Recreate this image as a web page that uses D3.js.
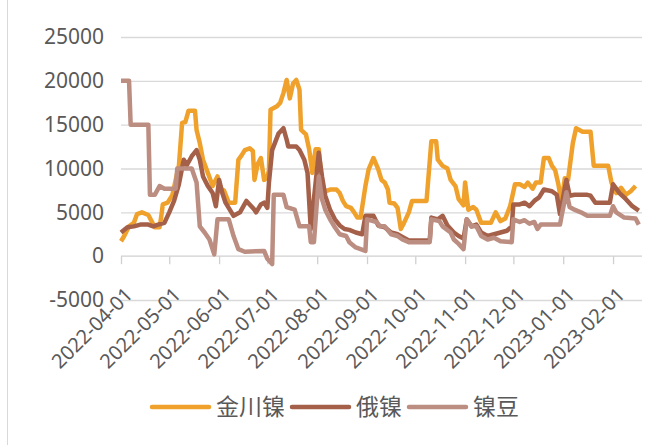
<!DOCTYPE html>
<html>
<head>
<meta charset="utf-8">
<script src="https://cdn.jsdelivr.net/npm/d3@7"></script>
<style>
  body { margin: 0; background: #fff; }
  text { font-family: "Noto Sans", "Noto Sans CJK SC", sans-serif; fill: #595959; }
</style>
</head>
<body>
<div id="chart"></div>
<script>
// values
var seriesNames = ["金川镍", "俄镍", "镍豆"];
var seriesColors = ["#EFA12C", "#A5604A", "#BC8D81"];

var monthTicks = ["2022-04-01", "2022-05-01", "2022-06-01", "2022-07-01", "2022-08-01",
  "2022-09-01", "2022-10-01", "2022-11-01", "2022-12-01", "2023-01-01", "2023-02-01"];
var yTicks = [-5000, 0, 5000, 10000, 15000, 20000, 25000];

var jinchuan = [
  ["2022-04-01", 1700], ["2022-04-03", 2300], ["2022-04-06", 3400], ["2022-04-09", 3800],
  ["2022-04-11", 4800], ["2022-04-14", 5000], ["2022-04-18", 4700], ["2022-04-20", 4000],
  ["2022-04-22", 3300], ["2022-04-25", 3300], ["2022-04-26", 4500], ["2022-04-27", 5900],
  ["2022-04-30", 6100], ["2022-05-03", 7000], ["2022-05-05", 8700], ["2022-05-07", 10300],
  ["2022-05-09", 15200], ["2022-05-11", 15300], ["2022-05-13", 16600], ["2022-05-17", 16600],
  ["2022-05-18", 14400], ["2022-05-20", 12900], ["2022-05-22", 11000], ["2022-05-25", 9500],
  ["2022-05-28", 8000], ["2022-05-31", 9100], ["2022-06-02", 7700], ["2022-06-04", 7500],
  ["2022-06-07", 6100], ["2022-06-11", 6100], ["2022-06-13", 11000], ["2022-06-15", 11500],
  ["2022-06-17", 12100], ["2022-06-20", 12300], ["2022-06-22", 12000], ["2022-06-23", 8700],
  ["2022-06-25", 10500], ["2022-06-27", 11200], ["2022-06-29", 8700], ["2022-07-01", 9000],
  ["2022-07-02", 9800], ["2022-07-03", 16700], ["2022-07-07", 17100], ["2022-07-09", 17500],
  ["2022-07-11", 18600], ["2022-07-13", 20100], ["2022-07-15", 18000], ["2022-07-17", 19700],
  ["2022-07-19", 20100], ["2022-07-21", 19000], ["2022-07-22", 14400], ["2022-07-25", 13900],
  ["2022-07-27", 12200], ["2022-07-29", 9500], ["2022-07-31", 12200], ["2022-08-02", 12200],
  ["2022-08-04", 8000], ["2022-08-06", 7400], ["2022-08-09", 7600], ["2022-08-13", 7600],
  ["2022-08-15", 7200], ["2022-08-17", 6300], ["2022-08-19", 5700], ["2022-08-22", 5500],
  ["2022-08-24", 5000], ["2022-08-26", 4400], ["2022-08-28", 4400], ["2022-08-31", 8000],
  ["2022-09-02", 9900], ["2022-09-05", 11200], ["2022-09-08", 9900], ["2022-09-10", 8700],
  ["2022-09-12", 8400], ["2022-09-14", 7600], ["2022-09-15", 6100], ["2022-09-18", 6000],
  ["2022-09-20", 5500], ["2022-09-22", 3100], ["2022-09-24", 3800], ["2022-09-27", 5000],
  ["2022-09-29", 6300], ["2022-10-08", 6300], ["2022-10-11", 13100], ["2022-10-14", 13100],
  ["2022-10-15", 11000], ["2022-10-18", 10300], ["2022-10-21", 10000], ["2022-10-23", 8700],
  ["2022-10-26", 8000], ["2022-10-28", 6500], ["2022-10-31", 5800], ["2022-11-01", 8400],
  ["2022-11-03", 5300], ["2022-11-06", 5600], ["2022-11-08", 5300], ["2022-11-11", 3800],
  ["2022-11-17", 3800], ["2022-11-20", 5000], ["2022-11-23", 4000], ["2022-11-26", 4300],
  ["2022-11-29", 5700], ["2022-12-02", 8200], ["2022-12-05", 8200], ["2022-12-08", 7900],
  ["2022-12-10", 8400], ["2022-12-13", 7700], ["2022-12-15", 8400], ["2022-12-18", 8400],
  ["2022-12-20", 11200], ["2022-12-23", 11200], ["2022-12-25", 10300], ["2022-12-27", 9800],
  ["2022-12-29", 8200], ["2022-12-31", 6100], ["2023-01-02", 8900], ["2023-01-04", 8700],
  ["2023-01-07", 12900], ["2023-01-09", 14600], ["2023-01-13", 14200], ["2023-01-18", 14200],
  ["2023-01-20", 10300], ["2023-01-29", 10300], ["2023-01-31", 8400], ["2023-02-03", 7200],
  ["2023-02-06", 7800], ["2023-02-09", 7000], ["2023-02-12", 7400], ["2023-02-15", 8000]
];

var eNi = [
  ["2022-04-01", 2700], ["2022-04-05", 3300], ["2022-04-09", 3400], ["2022-04-13", 3600],
  ["2022-04-18", 3600], ["2022-04-21", 3400], ["2022-04-24", 3600], ["2022-04-28", 3800],
  ["2022-05-01", 5000], ["2022-05-04", 6300], ["2022-05-07", 8200], ["2022-05-10", 11000],
  ["2022-05-12", 10400], ["2022-05-15", 11400], ["2022-05-18", 12100], ["2022-05-20", 11000],
  ["2022-05-22", 9100], ["2022-05-25", 8000], ["2022-05-28", 7200], ["2022-05-30", 5700],
  ["2022-06-01", 8700], ["2022-06-03", 7200], ["2022-06-05", 6100], ["2022-06-10", 4600],
  ["2022-06-14", 5000], ["2022-06-18", 6300], ["2022-06-20", 5900], ["2022-06-23", 5300],
  ["2022-06-24", 5000], ["2022-06-27", 5900], ["2022-06-29", 6100], ["2022-07-01", 5500],
  ["2022-07-02", 8400], ["2022-07-04", 12100], ["2022-07-08", 14000], ["2022-07-11", 14600],
  ["2022-07-13", 13300], ["2022-07-14", 12500], ["2022-07-19", 12500], ["2022-07-21", 12100],
  ["2022-07-24", 11000], ["2022-07-26", 9500], ["2022-07-28", 3100], ["2022-08-02", 11800],
  ["2022-08-04", 9100], ["2022-08-06", 6900], ["2022-08-09", 5300], ["2022-08-12", 4200],
  ["2022-08-15", 3500], ["2022-08-18", 3100], ["2022-08-21", 3000], ["2022-08-25", 2700],
  ["2022-08-29", 2500], ["2022-08-31", 4600], ["2022-09-05", 4600], ["2022-09-08", 3500],
  ["2022-09-12", 3300], ["2022-09-16", 2700], ["2022-09-20", 2500], ["2022-09-23", 2200],
  ["2022-09-27", 1800], ["2022-10-10", 1800], ["2022-10-11", 4400], ["2022-10-15", 4200],
  ["2022-10-18", 4600], ["2022-10-21", 3500], ["2022-10-25", 2700], ["2022-10-28", 2300],
  ["2022-10-31", 2000], ["2022-11-02", 4200], ["2022-11-05", 3400], ["2022-11-08", 3600],
  ["2022-11-11", 2700], ["2022-11-15", 2300], ["2022-11-19", 2500], ["2022-11-23", 2700],
  ["2022-11-27", 2900], ["2022-11-30", 3400], ["2022-12-01", 5900], ["2022-12-05", 5900],
  ["2022-12-08", 6100], ["2022-12-11", 5700], ["2022-12-14", 6300], ["2022-12-17", 6700],
  ["2022-12-20", 7600], ["2022-12-25", 7400], ["2022-12-28", 7000], ["2022-12-30", 4800],
  ["2023-01-02", 7800], ["2023-01-03", 8700], ["2023-01-05", 6900], ["2023-01-08", 7000],
  ["2023-01-16", 7000], ["2023-01-18", 6900], ["2023-01-21", 6100], ["2023-01-30", 6100],
  ["2023-02-01", 8200], ["2023-02-05", 7200], ["2023-02-09", 6500], ["2023-02-13", 5700],
  ["2023-02-17", 5200]
];

var nickelBean = [
  ["2022-04-01", 20000], ["2022-04-06", 20000], ["2022-04-07", 15000], ["2022-04-18", 15000],
  ["2022-04-19", 7000], ["2022-04-22", 7000], ["2022-04-25", 8000], ["2022-04-28", 7700],
  ["2022-05-05", 7700], ["2022-05-06", 10000], ["2022-05-15", 10000], ["2022-05-18", 8400],
  ["2022-05-20", 3400], ["2022-05-23", 2700], ["2022-05-26", 1900], ["2022-05-29", 200],
  ["2022-05-31", 4200], ["2022-06-07", 4200], ["2022-06-10", 2300], ["2022-06-13", 800],
  ["2022-06-17", 500], ["2022-06-29", 600], ["2022-07-01", -300], ["2022-07-04", -900],
  ["2022-07-05", 7000], ["2022-07-11", 7000], ["2022-07-13", 5600], ["2022-07-18", 5300],
  ["2022-07-21", 3400], ["2022-07-27", 3400], ["2022-07-28", 1600], ["2022-07-30", 1600],
  ["2022-08-02", 9100], ["2022-08-04", 6500], ["2022-08-06", 5300], ["2022-08-09", 4200],
  ["2022-08-12", 3300], ["2022-08-15", 2500], ["2022-08-19", 2300], ["2022-08-21", 1600],
  ["2022-08-25", 1000], ["2022-08-31", 600], ["2022-09-01", 4200], ["2022-09-07", 3900],
  ["2022-09-09", 3400], ["2022-09-12", 3400], ["2022-09-16", 2500], ["2022-09-20", 2300],
  ["2022-09-23", 1900], ["2022-09-27", 1600], ["2022-10-10", 1600], ["2022-10-11", 4200],
  ["2022-10-16", 4000], ["2022-10-18", 3400], ["2022-10-23", 2700], ["2022-10-25", 1900],
  ["2022-10-28", 1400], ["2022-10-31", 800], ["2022-11-02", 4200], ["2022-11-05", 3400],
  ["2022-11-08", 3400], ["2022-11-11", 2300], ["2022-11-15", 1900], ["2022-11-19", 2100],
  ["2022-11-23", 1700], ["2022-11-30", 1600], ["2022-12-01", 4200], ["2022-12-05", 3900],
  ["2022-12-08", 4100], ["2022-12-11", 3700], ["2022-12-14", 3900], ["2022-12-16", 3100],
  ["2022-12-18", 3600], ["2022-12-30", 3600], ["2022-12-31", 4600], ["2023-01-03", 7300],
  ["2023-01-05", 5600], ["2023-01-08", 5300], ["2023-01-12", 5000], ["2023-01-16", 4600],
  ["2023-01-30", 4600], ["2023-02-01", 5700], ["2023-02-03", 5000], ["2023-02-08", 4400],
  ["2023-02-15", 4300], ["2023-02-17", 3600]
];

var allSeries = [jinchuan, eNi, nickelBean];

var svgWidth = 668;
var svgHeight = 445;
var plot = { left: 121, right: 642, top: 37, bottom: 300 };

var parseDate = d3.timeParse("%Y-%m-%d");

var svg = d3.select("#chart")
  .append("svg")
  .attr("width", svgWidth)
  .attr("height", svgHeight);

// left frame edge of the chart box
svg.append("line")
  .attr("x1", 7.5).attr("x2", 7.5)
  .attr("y1", 0).attr("y2", svgHeight)
  .attr("stroke", "#d9d9d9");

var x = d3.scaleTime()
  .domain([parseDate("2022-04-01"), parseDate("2023-02-19")])
  .range([plot.left, plot.right]);

var y = d3.scaleLinear()
  .domain([-5000, 25000])
  .range([plot.bottom, plot.top]);

// gridlines
svg.append("g")
  .attr("transform", `translate(${plot.left}, 0)`)
  .call(d3.axisLeft(y).tickValues(yTicks.filter(d => d !== 0)).tickSize(-(plot.right - plot.left)).tickFormat(""))
  .call(g => g.select(".domain").remove())
  .call(g => g.selectAll("line").attr("stroke", "#d9d9d9").attr("stroke-width", 1.3));

// y labels, plain hyphen for the negative one
svg.append("g")
  .attr("transform", `translate(${plot.left}, 0)`)
  .call(d3.axisLeft(y).tickValues(yTicks).tickSize(0).tickPadding(17).tickFormat(d => String(d)))
  .call(g => g.select(".domain").remove())
  .call(g => g.selectAll("text")
    .attr("font-size", 21)
    .style("font-family", "'Noto Sans', sans-serif")
    .attr("fill", "#595959"));

// category axis at zero
svg.append("g")
  .attr("transform", `translate(0, ${y(0)})`)
  .call(d3.axisBottom(x).tickValues(monthTicks.map(parseDate)).tickSize(8).tickFormat(""))
  .call(g => g.select(".domain").attr("stroke", "#d0d0d0").attr("stroke-width", 1.3)
    .attr("d", `M${plot.left},0H${plot.right}`))
  .call(g => g.selectAll(".tick line").attr("stroke", "#d0d0d0").attr("stroke-width", 1.3));

svg.append("g")
  .selectAll("text")
  .data(monthTicks)
  .enter()
  .append("text")
  .attr("transform", d => `translate(${x(parseDate(d)) + 8}, ${y(-5000) - 9}) rotate(-45)`)
  .attr("text-anchor", "end")
  .attr("dy", "0.35em")
  .attr("font-size", 20)
  .text(d => d);

var line = d3.line()
  .x(d => x(parseDate(d[0])))
  .y(d => y(d[1]));

svg.append("g")
  .selectAll("path")
  .data(allSeries)
  .enter()
  .append("path")
  .attr("d", line)
  .attr("fill", "none")
  .attr("stroke", (d, i) => seriesColors[i])
  .attr("stroke-width", 4.5)
  .attr("stroke-linejoin", "round");

// legend
var legend = svg.append("g").attr("transform", "translate(152, 407)");
var lx = 0;
seriesNames.forEach(function(name, i) {
  legend.append("line")
    .attr("x1", lx).attr("x2", lx + 57)
    .attr("y1", 0).attr("y2", 0)
    .attr("stroke", seriesColors[i])
    .attr("stroke-width", 4.5)
    .attr("stroke-linecap", "round");
  var t = legend.append("text")
    .attr("x", lx + 64)
    .attr("dy", "0.35em")
    .attr("font-size", 23)
    .style("font-family", "'Noto Sans CJK SC', sans-serif")
    .text(name);
  lx += 64 + t.node().getComputedTextLength() + 7;
});
</script>
</body>
</html>
